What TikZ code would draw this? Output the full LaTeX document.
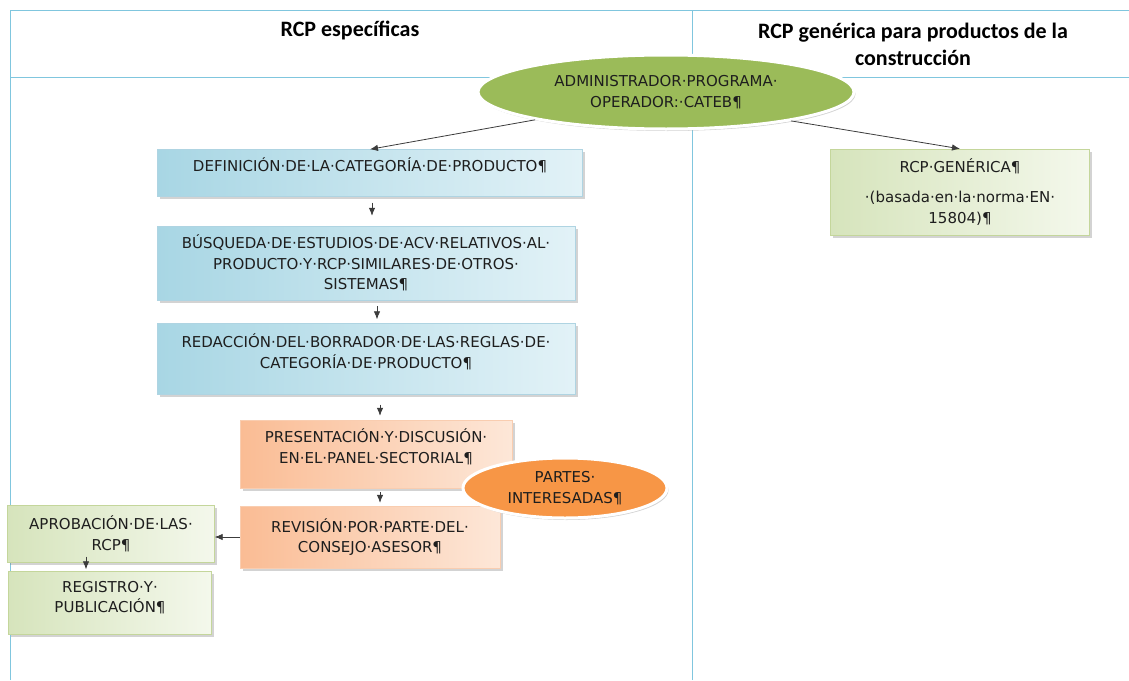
\documentclass[tikz,border=0pt]{standalone}
\usepackage{fontspec}
\setmainfont{DejaVu Sans}
\newfontfamily\headfont{Carlito}
\usetikzlibrary{arrows,arrows.meta,shapes.geometric,shadows,calc}

\definecolor{tabline}{RGB}{128,198,222}
\definecolor{admgreen}{RGB}{155,187,89}
\definecolor{partorange}{RGB}{247,150,70}
\definecolor{txt}{RGB}{30,30,30}
\definecolor{arrgray}{RGB}{60,60,60}

\tikzset{
  box/.style={rectangle,inner sep=0pt,align=center,text=txt,
    font=\fontsize{15}{20.5}\selectfont,
    drop shadow={shadow xshift=2.5pt,shadow yshift=-2.5pt,opacity=0.35}},
  bluebox/.style={box,left color={rgb,255:red,168;green,214;blue,228},
    right color={rgb,255:red,226;green,242;blue,247},draw={rgb,255:red,175;green,212;blue,226}},
  orangebox/.style={box,left color={rgb,255:red,250;green,188;blue,148},
    right color={rgb,255:red,253;green,231;blue,216},draw={rgb,255:red,249;green,205;blue,176}},
  greenbox/.style={box,left color={rgb,255:red,214;green,228;blue,188},
    right color={rgb,255:red,244;green,248;blue,236},draw={rgb,255:red,196;green,214;blue,155}},
  oval/.style={ellipse,inner sep=0pt,align=center,text=txt,draw=white,line width=3pt,
    font=\fontsize{15}{20.5}\selectfont,
    drop shadow={shadow xshift=1.5pt,shadow yshift=-2pt,opacity=0.35}},
  head/.style={font=\headfont\bfseries\fontsize{22}{27}\selectfont,align=center,text=black},
  arr/.style={-{Latex[length=8pt,width=6.5pt]},draw=arrgray,line width=0.8pt},
}

\begin{document}
\begin{tikzpicture}[x=1pt,y=-1pt]
  \useasboundingbox (0,0) rectangle (1129,680);
  % table
  \draw[tabline,line width=1pt] (10,680) -- (10,10) -- (1129,10);
  \draw[tabline,line width=1pt] (10,77) -- (1129,77);
  \draw[tabline,line width=1pt] (692,10) -- (692,680);
  \node[head] (hleft) at (350,30) {RCP específicas};
  \node[head] (hright) at (913,44) {RCP genérica para productos de la\\construcción};

  % boxes
  \node[bluebox,minimum width=425,minimum height=47] (def) at (370,173)
    {DEFINICIÓN·DE·LA·CATEGORÍA·DE·PRODUCTO¶\\[-4.5pt]};
  \node[bluebox,minimum width=418,minimum height=74] (bus) at (366,263)
    {BÚSQUEDA·DE·ESTUDIOS·DE·ACV·RELATIVOS·AL·\\PRODUCTO·Y·RCP·SIMILARES·DE·OTROS·\\SISTEMAS¶};
  \node[bluebox,minimum width=418,minimum height=71] (red) at (366,359)
    {REDACCIÓN·DEL·BORRADOR·DE·LAS·REGLAS·DE·\\CATEGORÍA·DE·PRODUCTO¶\\[-4.5pt]};
  \node[orangebox,minimum width=272,minimum height=68] (pres) at (376,454)
    {PRESENTACIÓN·Y·DISCUSIÓN·\\EN·EL·PANEL·SECTORIAL¶\\[-4.5pt]};
  \node[orangebox,minimum width=260,minimum height=62] (rev) at (370,537)
    {REVISIÓN·POR·PARTE·DEL·\\CONSEJO·ASESOR¶};
  \node[greenbox,minimum width=207,minimum height=57] (apr) at (111,534)
    {APROBACIÓN·DE·LAS·\\RCP¶};
  \node[greenbox,minimum width=203,minimum height=63] (reg) at (110,603)
    {REGISTRO·Y·\\PUBLICACIÓN¶\\[-8.5pt]};
  \node[greenbox,minimum width=259,minimum height=86] (gen) at (960,192)
    {RCP·GENÉRICA¶\\[10pt]·(basada·en·la·norma·EN·\\15804)¶};

  % ovals
  \node[oval,fill=admgreen,minimum width=376,minimum height=74] (adm) at (666,92)
    {ADMINISTRADOR·PROGRAMA·\\OPERADOR:·CATEB¶};
  \node[oval,fill=partorange,minimum width=204,minimum height=60] (partes) at (565,488)
    {PARTES·\\INTERESADAS¶};

  % arrows
  \draw[arr] (adm.192) -- (def.north);
  \draw[arr] (adm.347) -- (gen.north);
  \draw[arr,shorten <=6pt,shorten >=10pt] ([xshift=2pt]def.south) -- ([xshift=2pt]def.south |- bus.north);
  \draw[arr,shorten <=6pt,shorten >=4pt] ([xshift=11pt]bus.south) -- ([xshift=11pt]bus.south |- red.north);
  \draw[arr,shorten <=10pt,shorten >=4pt] ([xshift=14pt]red.south) -- ([xshift=14pt]red.south |- pres.north);
  \draw[arr,shorten <=4pt,shorten >=3pt] ([xshift=4pt]pres.south) -- ([xshift=4pt]pres.south |- rev.north);
  \draw[arr] (rev.west) -- (rev.west -| apr.east);
  \draw[arr,shorten >=2pt] ([xshift=-25pt,yshift=6pt]apr.south) -- ([xshift=-25pt]apr.south |- reg.north);
\end{tikzpicture}
\end{document}
